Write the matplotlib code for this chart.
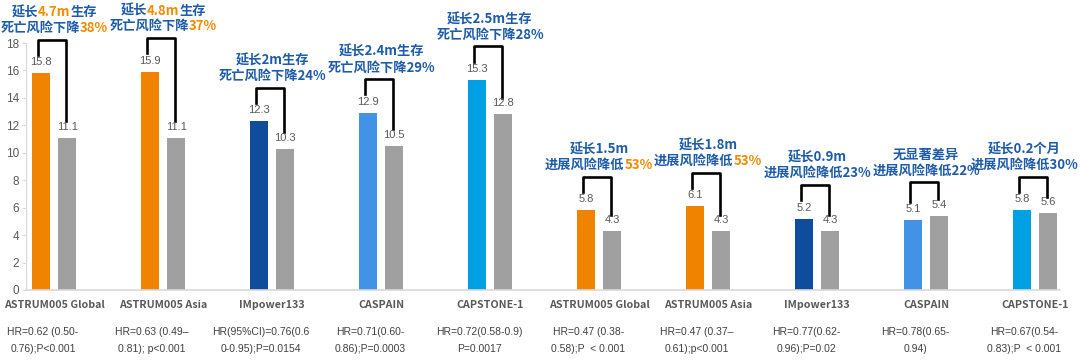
import re
import matplotlib
matplotlib.use('Agg')
from matplotlib import pyplot as plt
from matplotlib import transforms
from matplotlib.offsetbox import TextArea, HPacker, VPacker, AnnotationBbox

plt.rcParams['font.family'] = ['Noto Sans CJK SC', 'DejaVu Sans']

# data
studies = ['ASTRUM005 Global', 'ASTRUM005 Asia', 'IMpower133', 'CASPAIN', 'CAPSTONE-1',
           'ASTRUM005 Global', 'ASTRUM005 Asia', 'IMpower133', 'CASPAIN', 'CAPSTONE-1']
exp_months = [15.8, 15.9, 12.3, 12.9, 15.3, 5.8, 6.1, 5.2, 5.1, 5.8]
ctrl_months = [11.1, 11.1, 10.3, 10.5, 12.8, 4.3, 4.3, 4.3, 5.4, 5.6]
hr_notes = [
    'HR=0.62 (0.50-\n0.76);P<0.001',
    'HR=0.63 (0.49–\n0.81); p<0.001',
    'HR(95%CI)=0.76(0.6\n0-0.95);P=0.0154',
    'HR=0.71(0.60-\n0.86);P=0.0003',
    'HR=0.72(0.58-0.9)\nP=0.0017',
    'HR=0.47 (0.38-\n0.58);P  < 0.001',
    'HR=0.47 (0.37–\n0.61);p<0.001',
    'HR=0.77(0.62-\n0.96);P=0.02',
    'HR=0.78(0.65-\n0.94)',
    'HR=0.67(0.54-\n0.83);P  < 0.001',
]
# {...} marks the highlighted part
gain_notes = [
    ('延长{4.7m}生存', '死亡风险下降{38%}'),
    ('延长{4.8m}生存', '死亡风险下降{37%}'),
    ('延长2m生存', '死亡风险下降24%'),
    ('延长2.4m生存', '死亡风险下降29%'),
    ('延长2.5m生存', '死亡风险下降28%'),
    ('延长1.5m', '进展风险降低{53%}'),
    ('延长1.8m', '进展风险降低{53%}'),
    ('延长0.9m', '进展风险降低23%'),
    ('无显著差异', '进展风险降低22%'),
    ('延长0.2个月', '进展风险降低30%'),
]

# styles
study_colors = ['#F08300', '#F08300', '#0F4C9C', '#4292E6', '#00A1E4'] * 2
ctrl_color = '#A0A0A0'
note_blue = '#1E5CAA'
note_orange = '#F08C00'
grey_text = '#595959'


def rich_line(line):
    parts = [p for p in re.split(r'(\{[^}]*\})', line) if p]
    boxes = []
    for p in parts:
        hi = p.startswith('{')
        boxes.append(TextArea(p.strip('{}'), textprops=dict(
            color=note_orange if hi else note_blue, fontsize=9.5, fontweight='bold')))
    return HPacker(children=boxes, align='baseline', pad=0, sep=0)


fig = plt.figure(figsize=(10.8, 3.6), dpi=100)
ax = fig.add_axes([26 / 1080, 70 / 360, 1034 / 1080, 290 / 360])

x = list(range(len(studies)))
xe = [i - 0.12 for i in x]
xc = [i + 0.12 for i in x]
ax.bar(xe, exp_months, width=0.16, color=study_colors)
ax.bar(xc, ctrl_months, width=0.16, color=ctrl_color)

for i in x:
    ax.text(xe[i], exp_months[i] + 0.8, f'{exp_months[i]}', ha='center', va='center',
            fontsize=8, color=grey_text, family=['Liberation Sans'])
    ax.text(xc[i], ctrl_months[i] + 0.8, f'{ctrl_months[i]}', ha='center', va='center',
            fontsize=8, color=grey_text, family=['Liberation Sans'])

    top = max(exp_months[i], ctrl_months[i]) + 2.45
    ax.plot([i - 0.15, i - 0.15, i + 0.11, i + 0.11],
            [exp_months[i] + 1.35, top, top, ctrl_months[i] + 1.2],
            color='black', lw=1.9, clip_on=False, solid_joinstyle='round')

    box = VPacker(children=[rich_line(gain_notes[i][0]), rich_line(gain_notes[i][1])],
                  align='center', pad=0, sep=1)
    bx = min(i, 8.9)  # keep the last note inside the figure
    ab = AnnotationBbox(box, (bx, top + 0.36), xycoords='data', box_alignment=(0.5, 0),
                        frameon=False, pad=0, annotation_clip=False)
    ax.add_artist(ab)

trans = transforms.blended_transform_factory(ax.transData, ax.transAxes)
for i in x:
    ax.text(i - 0.1, -0.175, hr_notes[i], transform=trans, ha='center', va='center',
            fontsize=7.5, color='#404040', family=['Liberation Sans'], linespacing=1.85)

ax.set_xlim(-0.257, 9.229)
ax.set_ylim(0, 290 / 13.72)
ax.set_yticks(range(0, 19, 2))
ax.set_xticks(x)
ax.set_xticklabels(studies, fontsize=7.7, fontweight='bold', color=grey_text)
ax.tick_params(axis='x', length=0, pad=7)
ax.tick_params(axis='y', length=3, color='#D9D9D9', labelcolor=grey_text, labelsize=8.5, pad=2)
for lbl in ax.get_yticklabels():
    lbl.set_family(['Liberation Sans'])

for s in ['top', 'right']:
    ax.spines[s].set_visible(False)
ax.spines['bottom'].set_color('#D9D9D9')
ax.spines['bottom'].set_linewidth(1.2)
ax.spines['left'].set_color('#D9D9D9')
ax.spines['left'].set_linewidth(0.8)
ax.spines['left'].set_bounds(0, 18)

fig.savefig('out.png', dpi=100)
